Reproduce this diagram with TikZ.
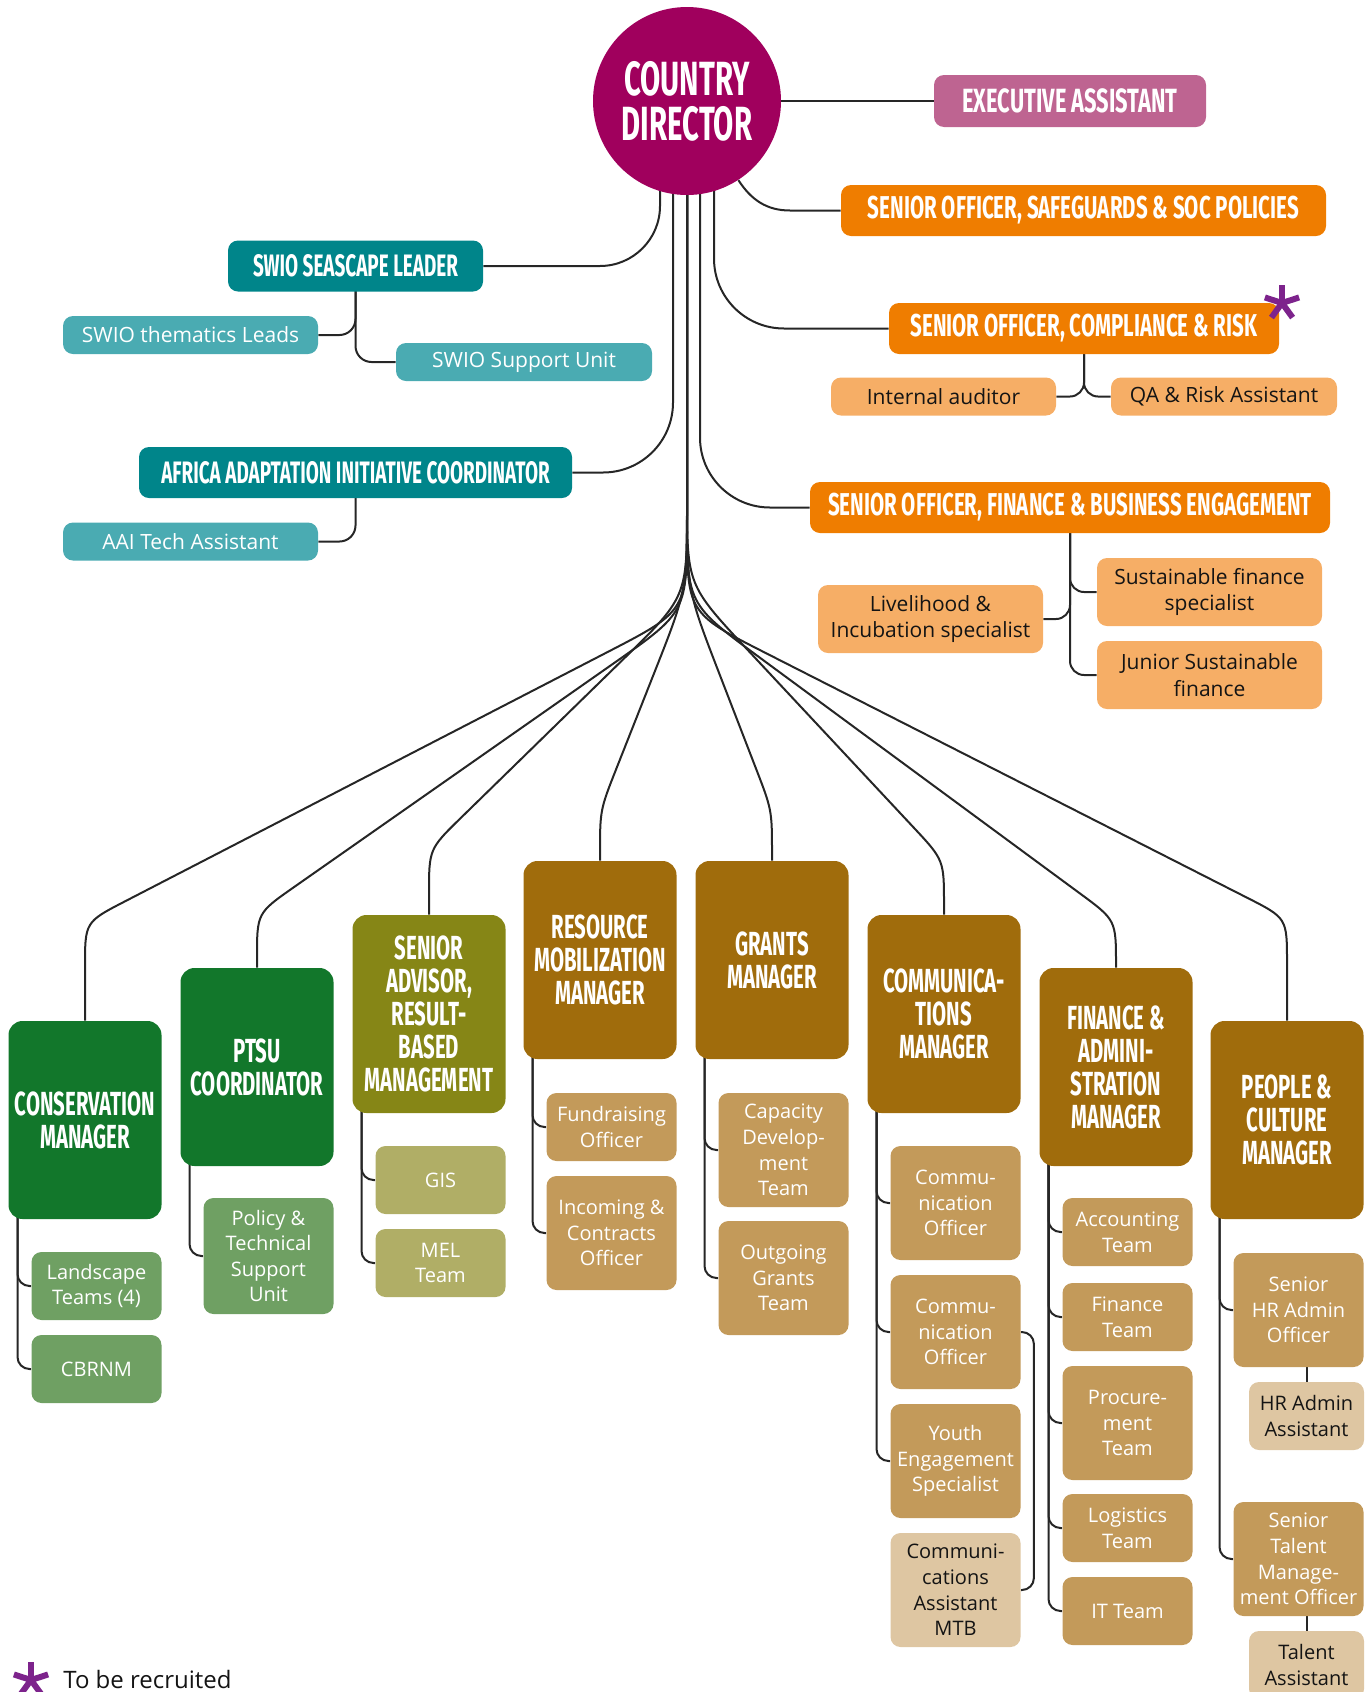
\documentclass[tikz,border=0pt]{standalone}
\usepackage{fontspec}
\setmainfont{Open Sans}
\newfontfamily\hf[FakeStretch=0.61]{Fira Sans}
\newfontfamily\hfw[FakeStretch=0.65]{Fira Sans}
\usetikzlibrary{calc}
\pgfdeclarelayer{bg}
\pgfsetlayers{bg,main}
\definecolor{cdc}{RGB}{160,0,93}
\definecolor{execc}{RGB}{190,100,145}
\definecolor{orangeA}{RGB}{239,125,0}
\definecolor{orangeB}{RGB}{246,174,102}
\definecolor{tealA}{RGB}{0,133,138}
\definecolor{tealB}{RGB}{74,171,178}
\definecolor{greenA}{RGB}{18,119,43}
\definecolor{greenB}{RGB}{111,160,99}
\definecolor{oliveA}{RGB}{134,134,22}
\definecolor{oliveB}{RGB}{176,174,102}
\definecolor{brownA}{RGB}{160,108,12}
\definecolor{brownB}{RGB}{195,154,90}
\definecolor{tanC}{RGB}{222,198,162}
\definecolor{starc}{RGB}{125,35,140}
\definecolor{linec}{RGB}{38,38,38}
\definecolor{inkc}{RGB}{20,20,20}
\newcommand\fanline[4]{%
  \coordinate (#4a) at (687,#2);
  \coordinate (#4b) at (#1.north |- 0,#3);
  \draw[conn] (cd.center) -- ($(#4a)!45pt!(cd.center)$) .. controls (#4a) .. ($(#4a)!45pt!(#4b)$)
    -- ($(#4b)!22.5pt!(#4a)$) .. controls (#4b) .. ($(#4b)!22.5pt!(#1.north)$) -- (#1.north);}
\begin{document}
\begin{tikzpicture}[x=0.5pt,y=-0.5pt,
  box/.style={rectangle, rounded corners=5pt, inner sep=0pt, align=center},
  title/.style={box, font=\hf\bfseries\fontsize{15.5}{15.5}\selectfont, text=white, minimum height=25.5pt},
  titlew/.style={box, font=\hfw\bfseries\fontsize{15.8}{15.8}\selectfont, text=white, minimum height=25.5pt},
  sm/.style={box, font=\fontsize{10.5}{13.2}\selectfont, minimum height=19pt},
  mgr/.style={box, rounded corners=7pt, minimum width=76.5pt, minimum height=99pt, text=white,
    font=\hf\bfseries\fontsize{16.7}{16.5}\selectfont},
  sub/.style={box, minimum width=65pt, text=white, font=\fontsize{10}{12.8}\selectfont},
  two/.style={minimum height=34pt},
  three/.style={minimum height=57pt},
  conn/.style={draw=linec, line width=1pt},
  starline/.style={draw=starc, line width=3pt}]
\useasboundingbox (0,0) rectangle (1371,1692);
\clip (0,0) rectangle (1371,1692);

% ---- top part
\node[circle, fill=cdc, minimum size=94pt, inner sep=0pt, text=white, align=center,
  font=\hf\bfseries\fontsize{24}{22.5}\selectfont] (cd) at (687,101) {COUNTRY\\DIRECTOR};
\node[titlew, fill=execc, minimum width=136pt, minimum height=26pt, font=\hfw\bfseries\fontsize{16.8}{16.8}\selectfont] (ea) at (1070,101) {EXECUTIVE ASSISTANT};
\node[titlew, fill=orangeA, minimum width=242.5pt] (sg) at (1083.5,210.5) {SENIOR OFFICER, SAFEGUARDS \& SOC POLICIES};
\node[titlew, fill=orangeA, minimum width=195pt] (cr) at (1084,328.5) {SENIOR OFFICER, COMPLIANCE \& RISK};
\node[sm, fill=orangeB, text=inkc, minimum width=112.5pt] (ia) at (943.5,396.5) {Internal auditor};
\node[sm, fill=orangeB, text=inkc, minimum width=113pt] (qa) at (1224,396.5) {QA \& Risk Assistant};
\node[titlew, fill=orangeA, minimum width=260pt] (fb) at (1070,507.5) {SENIOR OFFICER, FINANCE \& BUSINESS ENGAGEMENT};
\node[sm, fill=orangeB, text=inkc, minimum width=112.5pt, minimum height=34pt] (li) at (930.5,619) {Livelihood \&\\Incubation specialist};
\node[sm, fill=orangeB, text=inkc, minimum width=112.5pt, minimum height=34pt] (sf) at (1209.5,592) {Sustainable finance\\specialist};
\node[sm, fill=orangeB, text=inkc, minimum width=112.5pt, minimum height=34pt] (js) at (1209.5,675) {Junior Sustainable\\finance};
\node[title, fill=tealA, minimum width=127.5pt] (sw) at (355.5,266) {SWIO SEASCAPE LEADER};
\node[sm, fill=tealB, text=white, minimum width=127.5pt] (st) at (190.5,335) {SWIO thematics Leads};
\node[sm, fill=tealB, text=white, minimum width=128pt] (su) at (524,362) {SWIO Support Unit};
\node[title, fill=tealA, minimum width=216.5pt] (aa) at (355.5,472.5) {AFRICA ADAPTATION INITIATIVE COORDINATOR};
\node[sm, fill=tealB, text=white, minimum width=127.5pt] (at) at (190.5,541.5) {AAI Tech Assistant};

% ---- managers
\node[mgr, fill=greenA] (m1) at (85,1120) {CONSERVATION\\MANAGER};
\node[mgr, fill=greenA] (m2) at (257,1067) {PTSU\\COORDINATOR};
\node[mgr, fill=oliveA] (m3) at (429,1014) {SENIOR\\ADVISOR,\\RESULT-\\BASED\\MANAGEMENT};
\node[mgr, fill=brownA] (m4) at (600,960) {RESOURCE\\MOBILIZATION\\MANAGER};
\node[mgr, fill=brownA] (m5) at (772,960) {GRANTS\\MANAGER};
\node[mgr, fill=brownA] (m6) at (944,1014) {COMMUNICA-\\TIONS\\MANAGER};
\node[mgr, fill=brownA] (m7) at (1116,1067) {FINANCE \&\\ADMINI-\\STRATION\\MANAGER};
\node[mgr, fill=brownA] (m8) at (1287,1120) {PEOPLE \&\\CULTURE\\MANAGER};

% ---- sub units
\node[sub, two, fill=greenB] (a1) at (96.5,1286) {Landscape\\Teams (4)};
\node[sub, two, fill=greenB] (a2) at (96.5,1369) {CBRNM};
\node[sub, fill=greenB, minimum height=58pt] (b1) at (268.5,1256) {Policy \&\\Technical\\Support\\Unit};
\node[sub, two, fill=oliveB] (c1) at (440.5,1180) {GIS};
\node[sub, two, fill=oliveB] (c2) at (440.5,1263) {MEL\\Team};
\node[sub, two, fill=brownB] (d1) at (611.5,1127) {Fundraising\\Officer};
\node[sub, three, fill=brownB] (d2) at (611.5,1233) {Incoming \&\\Contracts\\Officer};
\node[sub, three, fill=brownB] (e1) at (783.5,1150) {Capacity\\Develop-\\ment\\Team};
\node[sub, three, fill=brownB] (e2) at (783.5,1278) {Outgoing\\Grants\\Team};
\node[sub, three, fill=brownB] (f1) at (955.5,1203) {Commu-\\nication\\Officer};
\node[sub, three, fill=brownB] (f2) at (955.5,1332) {Commu-\\nication\\Officer};
\node[sub, three, fill=brownB] (f3) at (955.5,1461) {Youth\\Engagement\\Specialist};
\node[sub, three, fill=tanC, text=inkc] (f4) at (955.5,1590) {Communi-\\cations\\Assistant\\MTB};
\node[sub, two, fill=brownB] (g1) at (1127.5,1232) {Accounting\\Team};
\node[sub, two, fill=brownB] (g2) at (1127.5,1317) {Finance\\Team};
\node[sub, three, fill=brownB] (g3) at (1127.5,1423) {Procure-\\ment\\Team};
\node[sub, two, fill=brownB] (g4) at (1127.5,1528) {Logistics\\Team};
\node[sub, two, fill=brownB] (g5) at (1127.5,1611) {IT Team};
\node[sub, three, fill=brownB] (h1) at (1298.5,1310) {Senior\\HR Admin\\Officer};
\node[sub, two, fill=tanC, text=inkc, minimum width=57.5pt] (h2) at (1306.5,1416) {HR Admin\\Assistant};
\node[sub, three, fill=brownB] (h3) at (1298.5,1559) {Senior\\Talent\\Manage-\\ment Officer};
\node[sub, two, fill=tanC, text=inkc, minimum width=57.5pt] (h4) at (1306.5,1665) {Talent\\Assistant};

% ---- stars and legend
\foreach \a in {90,18,162,234,306} \draw[starline] (1282,303) -- ++(-\a:18);
\foreach \a in {90,18,162,234,306} \draw[starline] (31,1680) -- ++(-\a:18);
\node[anchor=base west, inner sep=0pt, text=inkc, font=\fontsize{12}{14}\selectfont] (legend) at (63,1688) {To be recruited};

% ---- connectors
\begin{pgfonlayer}{bg}
\draw[conn] (cd.east) -- (ea.west);
\coordinate (sgk) at (790,210.5);
\draw[conn] (cd.-57) to[out=-57,in=180] (sgk) -- (sg.west);
\draw[conn, rounded corners=30pt] ($(cd.center)+(-27,0)$) |- (sw.east);
\draw[conn, rounded corners=35pt] ($(cd.center)+(-14,0)$) |- (aa.east);
\draw[conn, rounded corners=35pt] ($(cd.center)+(13,0)$) |- (fb.west);
\draw[conn, rounded corners=35pt] ($(cd.center)+(27,0)$) |- (cr.west);
\draw[conn, rounded corners=8pt] (sw.center) |- (st.east);
\draw[conn, rounded corners=8pt] (sw.center) |- (su.west);
\draw[conn, rounded corners=8pt] (aa.center) |- (at.east);
\draw[conn, rounded corners=7pt] (cr.center) |- (ia.east);
\draw[conn, rounded corners=7pt] (cr.center) |- (qa.west);
\draw[conn, rounded corners=7pt] (fb.center) |- (sf.west);
\draw[conn, rounded corners=7pt] (fb.center) |- (js.west);
\draw[conn, rounded corners=7pt] (fb.center) |- (li.east);
% fan
\fanline{m1}{611}{922}{k1}
\fanline{m2}{612}{913}{k2}
\fanline{m3}{597}{849}{k3}
\fanline{m4}{590}{810}{k4}
\fanline{m5}{590}{810}{k5}
\fanline{m6}{585}{860}{k6}
\fanline{m7}{604}{920}{k7}
\fanline{m8}{613}{918}{k8}
% sub connectors
\foreach \m/\c in {m1/a1,m1/a2,m2/b1,m3/c1,m3/c2,m4/d1,m4/d2,m5/e1,m5/e2,m6/f1,m6/f2,m6/f3,m7/g1,m7/g2,m7/g3,m7/g4,m7/g5,m8/h1,m8/h3}
  \draw[conn, rounded corners=6pt] ($(\m.center)+(-67.5,0)$) |- (\c.west);
\draw[conn, rounded corners=6pt] (f2.east) -- ++(13,0) |- (f4.east);
\draw[conn] (h2.north) -- (h2.north |- h1.center);
\draw[conn] (h4.north) -- (h4.north |- h3.center);
\end{pgfonlayer}
\end{tikzpicture}
\end{document}
